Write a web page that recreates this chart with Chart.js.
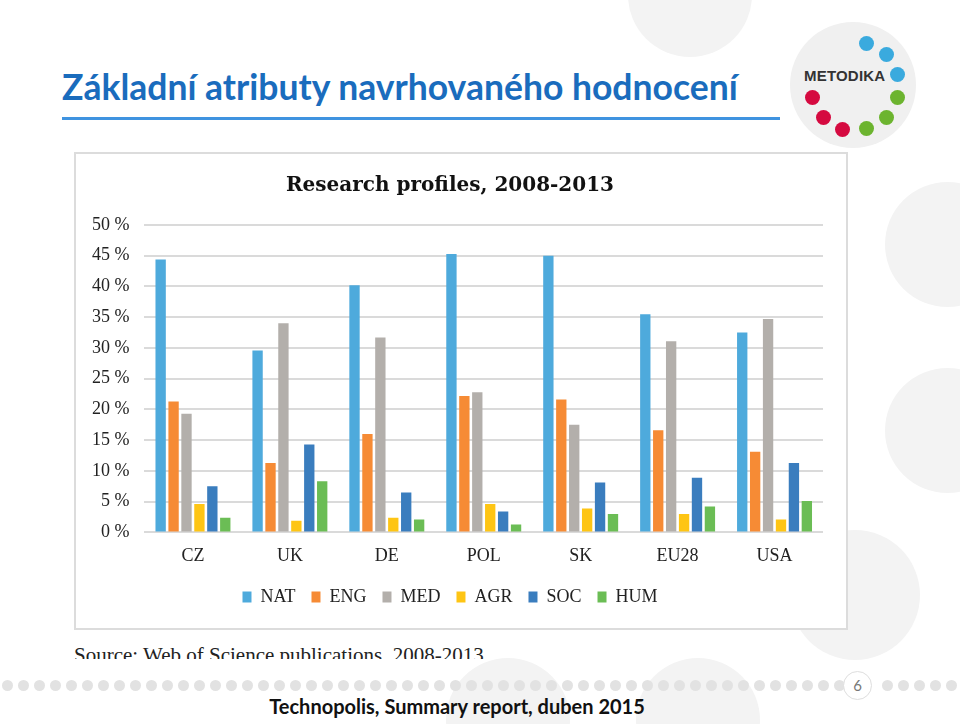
<!DOCTYPE html>
<html lang="cs">
<head>
  <meta charset="UTF-8">
  <title>Základní atributy navrhovaného hodnocení</title>
  <script src="https://cdn.jsdelivr.net/npm/chart.js"></script>
  <style>
    body { margin: 0; width: 960px; height: 724px; overflow: hidden; background: #fff; position: relative; font-family: Lato, "Open Sans", sans-serif; }
    .deco { position: absolute; border-radius: 50%; background: #f3f3f3; }
    .slide-title { position: absolute; left: 62px; top: 65px; font-size: 35.5px; font-weight: bold; color: #1a6cbd; font-family: Lato, sans-serif; white-space: nowrap; }
    .rule { position: absolute; left: 62px; top: 117px; width: 718px; height: 3px; background: #3f93e0; }
    .chart-box { position: absolute; left: 74px; top: 152px; width: 770px; height: 474px; border: 2px solid #dcdcdc; background: #fff; }
    .source { position: absolute; left: 74px; top: 640px; height: 19px; overflow: hidden; font-family: "Liberation Serif", serif; font-size: 21px; color: #222; white-space: nowrap; line-height: 30px; }
    .dots { position: absolute; left: 0; top: 680px; width: 960px; height: 12px; }
    .dot { position: absolute; width: 11px; height: 11px; border-radius: 50%; background: #e2e2e2; }
    .pagenum { position: absolute; left: 843px; top: 671px; width: 27px; height: 27px; border: 1px solid #dedede; border-radius: 50%; background: #fff; text-align: center; line-height: 27px; font-size: 15px; color: #777; }
    .footer { position: absolute; left: 0; width: 914px; top: 694px; text-align: center; font-weight: bold; font-size: 20px; color: #111; }
    .logo { position: absolute; left: 790px; top: 22px; width: 126px; height: 126px; border-radius: 50%; background: #f0f0f0; }
    .logo-text { position: absolute; left: 804px; top: 67px; font-family: "Liberation Sans", sans-serif; font-weight: bold; font-size: 15px; color: #333; letter-spacing: 0.2px; }
    .ld { position: absolute; width: 15px; height: 15px; border-radius: 50%; }
  </style>
</head>
<body>
  <!-- background circles -->
  <div class="deco" style="left:628px; top:-67px; width:124px; height:124px;"></div>
  <div class="deco" style="left:885px; top:182px; width:125px; height:125px;"></div>
  <div class="deco" style="left:885px; top:368px; width:125px; height:125px;"></div>
  <div class="deco" style="left:790px; top:530px; width:130px; height:130px;"></div>
  <div class="deco" style="left:446px; top:658px; width:124px; height:124px;"></div>
  <div class="deco" style="left:636px; top:658px; width:124px; height:124px;"></div>

  <div class="logo"></div>
  <div class="logo-text">METODIKA</div>
  <div class="ld" style="left:859px; top:36px; background:#3aaade;"></div>
  <div class="ld" style="left:879px; top:47px; background:#3aaade;"></div>
  <div class="ld" style="left:890px; top:67px; background:#3aaade;"></div>
  <div class="ld" style="left:890px; top:90px; background:#6cb42f;"></div>
  <div class="ld" style="left:879px; top:110px; background:#6cb42f;"></div>
  <div class="ld" style="left:859px; top:121px; background:#6cb42f;"></div>
  <div class="ld" style="left:835px; top:122px; background:#d50a40;"></div>
  <div class="ld" style="left:816px; top:110px; background:#d50a40;"></div>
  <div class="ld" style="left:805px; top:90px; background:#d50a40;"></div>

  <div class="slide-title">Základní atributy navrhovaného hodnocení</div>
  <div class="rule"></div>

  <div class="chart-box">
    <canvas id="chart" width="770" height="474"></canvas>
  </div>

  <div class="source">Source: Web of Science publications, 2008-2013</div>

  <div class="dots" id="dots"></div>
  <div class="pagenum">6</div>
  <div class="footer">Technopolis, Summary report, duben 2015</div>

  <script>
    // data (share of publications, %)
    const countries = ['CZ', 'UK', 'DE', 'POL', 'SK', 'EU28', 'USA'];
    const natValues = [44.4, 29.6, 40.2, 45.3, 45.0, 35.5, 32.5];
    const engValues = [21.3, 11.3, 16.0, 22.2, 21.6, 16.6, 13.1];
    const medValues = [19.3, 34.0, 31.7, 22.8, 17.5, 31.1, 34.7];
    const agrValues = [4.6, 1.9, 2.4, 4.6, 3.9, 3.0, 2.1];
    const socValues = [7.5, 14.3, 6.5, 3.4, 8.1, 8.9, 11.3];
    const humValues = [2.4, 8.3, 2.1, 1.3, 3.0, 4.2, 5.1];
    const yTicks = [0, 5, 10, 15, 20, 25, 30, 35, 40, 45, 50];

    // footer dots
    const dotsBox = document.getElementById('dots');
    for (let x = 2; x < 960; x += 16) {
      if (x > 836 && x < 872) continue;
      const d = document.createElement('div');
      d.className = 'dot';
      d.style.left = x + 'px';
      dotsBox.appendChild(d);
    }

    const serif = "'Liberation Serif', 'DejaVu Serif', serif";
    const wideSerif = "'DejaVu Serif', 'Liberation Serif', serif";

    function ds(label, data, color) {
      return {
        label: label,
        data: data,
        backgroundColor: color,
        borderWidth: 0,
        categoryPercentage: 0.8,
        barPercentage: 0.8
      };
    }

    const ctx = document.getElementById('chart').getContext('2d');
    new Chart(ctx, {
      type: 'bar',
      data: {
        labels: countries,
        datasets: [
          ds('NAT', natValues, '#4eaadc'),
          ds('ENG', engValues, '#f68b35'),
          ds('MED', medValues, '#b3afab'),
          ds('AGR', agrValues, '#fec514'),
          ds('SOC', socValues, '#3a7dbe'),
          ds('HUM', humValues, '#6bbd55')
        ]
      },
      options: {
        responsive: false,
        animation: false,
        layout: { padding: { left: 1, right: 23, top: 8, bottom: 12 } },
        scales: {
          x: {
            grid: { display: false },
            border: { display: false },
            ticks: { color: '#222', font: { family: serif, size: 18 }, padding: 5 }
          },
          y: {
            min: 0,
            max: 50,
            afterBuildTicks: function(axis) {
              axis.ticks = yTicks.map(v => ({ value: v }));
            },
            grid: { color: '#dadada', lineWidth: 2, drawTicks: false },
            border: { display: false },
            ticks: {
              color: '#222',
              font: { family: serif, size: 18 },
              padding: 15,
              callback: function(value) { return value + ' %'; }
            }
          }
        },
        plugins: {
          title: {
            display: true,
            text: 'Research profiles, 2008-2013',
            color: '#111',
            font: { family: wideSerif, size: 20, weight: 'bold' },
            padding: { top: 12, bottom: 27 }
          },
          legend: {
            position: 'bottom',
            labels: {
              color: '#222',
              font: { family: serif, size: 18 },
              boxWidth: 9,
              boxHeight: 11,
              padding: 16
            }
          },
          tooltip: { enabled: false }
        }
      }
    });
  </script>
</body>
</html>
